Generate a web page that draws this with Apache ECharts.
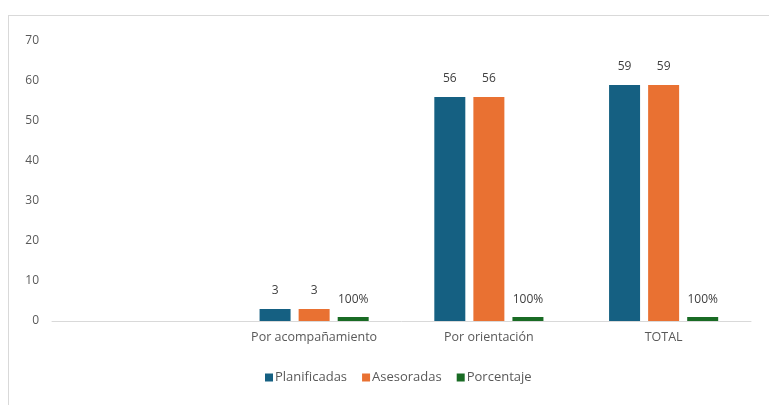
<!DOCTYPE html>
<html><head><meta charset="utf-8">
<script src="https://cdn.jsdelivr.net/npm/echarts@6/dist/echarts.min.js"></script>
<style>
html,body{margin:0;padding:0;background:#fff;}
#frame{position:absolute;left:8px;top:15px;width:770px;height:400px;border:1px solid #d9d9d9;box-sizing:border-box;}
#c{position:absolute;left:0;top:0;width:769px;height:405px;}
</style></head><body>
<div id="frame"></div>
<div id="c"></div>
<script>
const categories = ['', 'Por acompañamiento', 'Por orientación', 'TOTAL'];
const planificadas = [null, 3, 56, 59];
const asesoradas = [null, 3, 56, 59];
const porcentaje = [null, 1, 1, 1];
const yTicks = {min: 0, max: 70, interval: 10};

const chart = echarts.init(document.getElementById('c'));
const font = '"Open Sans", Roboto, "Liberation Sans", sans-serif';
const lbl = {show: true, position: 'top', distance: 12, color: '#404040', fontSize: 12, fontFamily: font};
chart.setOption({
  animation: false,
  textStyle: {fontFamily: font},
  grid: {left: 52, right: 18, top: 41, bottom: 84, containLabel: false},
  legend: {
    bottom: 16, left: 260, itemWidth: 8, itemHeight: 8, itemGap: 15,
    icon: 'rect',
    textStyle: {color: '#595959', fontSize: 13, fontFamily: font, padding: [0,0,0,-3]},
    data: ['Planificadas', 'Asesoradas', 'Porcentaje']
  },
  xAxis: {
    type: 'category', data: categories,
    axisLine: {lineStyle: {color: '#d9d9d9', width: 1}},
    axisTick: {show: false},
    axisLabel: {color: '#595959', fontSize: 12.5, fontFamily: font, margin: 10}
  },
  yAxis: {
    type: 'value', min: yTicks.min, max: yTicks.max, interval: yTicks.interval,
    splitLine: {show: false},
    axisLine: {show: false}, axisTick: {show: false},
    axisLabel: {color: '#595959', fontSize: 12, fontFamily: font, margin: 13}
  },
  series: [
    {name: 'Planificadas', type: 'bar', data: planificadas, barWidth: 31, barGap: '26%',
     itemStyle: {color: '#156082'}, label: lbl},
    {name: 'Asesoradas', type: 'bar', data: asesoradas, barWidth: 31, barGap: '26%',
     itemStyle: {color: '#E97132'}, label: lbl},
    {name: 'Porcentaje', type: 'bar', data: porcentaje, barWidth: 31, barGap: '26%',
     itemStyle: {color: '#196B24'},
     label: Object.assign({}, lbl, {formatter: p => Math.round(p.value * 100) + '%', distance: 11})}
  ]
});
</script>
</body></html>
